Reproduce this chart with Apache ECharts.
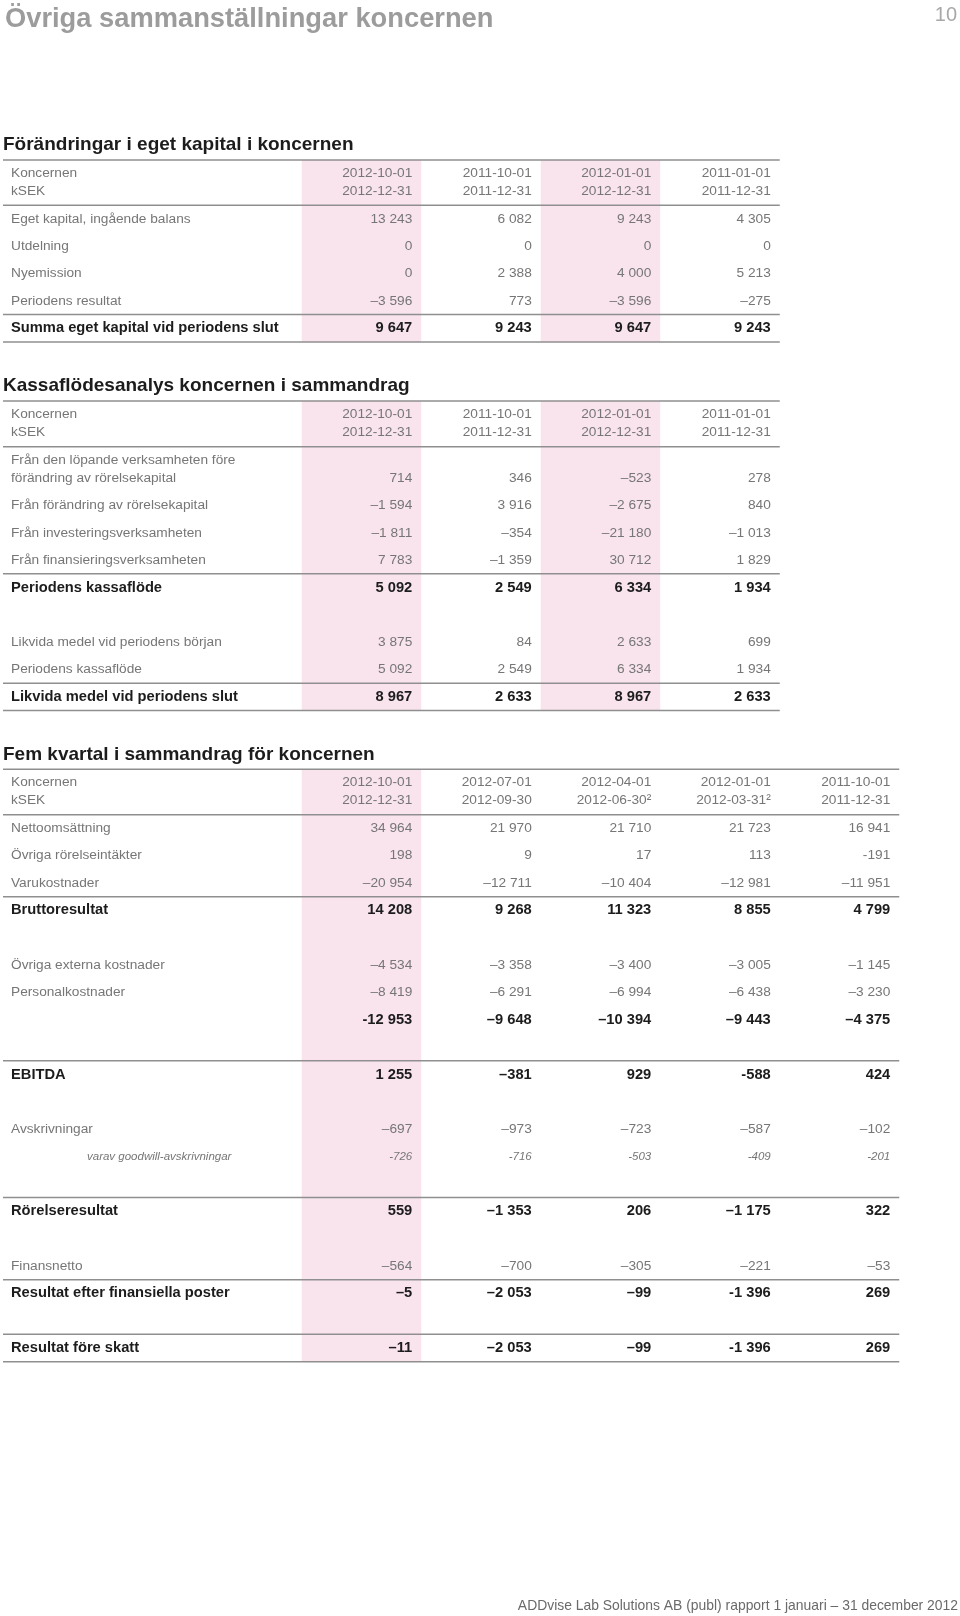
<!DOCTYPE html>
<html><head><meta charset="utf-8">
<script src="https://cdn.jsdelivr.net/npm/echarts@6/dist/echarts.min.js"></script>
<style>html,body{margin:0;padding:0;background:#fff}#c{width:960px;height:1616px}</style>
</head><body><div id="c"></div><script>
// ================= DATA =================
const pageTitle = 'Övriga sammanställningar koncernen';
const pageNumber = '10';
const footerText = 'ADDvise Lab Solutions AB (publ) rapport 1 januari – 31 december 2012';
const headerLabels = ['Koncernen', 'kSEK'];

// Table 1
const t1Title = 'Förändringar i eget kapital i koncernen';
const t1From = ['2012-10-01', '2011-10-01', '2012-01-01', '2011-01-01'];
const t1To = ['2012-12-31', '2011-12-31', '2012-12-31', '2011-12-31'];
const t1Labels = ['Eget kapital, ingående balans', 'Utdelning', 'Nyemission', 'Periodens resultat', 'Summa eget kapital vid periodens slut'];
const t1Slots = [0, 1, 2, 3, 4];
const t1Styles = ['n', 'n', 'n', 'n', 'b'];
const t1Values = [
  [13243, 6082, 9243, 4305],
  [0, 0, 0, 0],
  [0, 2388, 4000, 5213],
  [-3596, 773, -3596, -275],
  [9647, 9243, 9647, 9243]
];
const t1Rules = [-0.5, 3.5, 4.5];
const t1Shaded = [1, 3];
const t1Hyphen = [];

// Table 2
const t2Title = 'Kassaflödesanalys koncernen i sammandrag';
const t2From = ['2012-10-01', '2011-10-01', '2012-01-01', '2011-01-01'];
const t2To = ['2012-12-31', '2011-12-31', '2012-12-31', '2011-12-31'];
const t2Labels = ['Från den löpande verksamheten före\nförändring av rörelsekapital', 'Från förändring av rörelsekapital', 'Från investeringsverksamheten', 'Från finansieringsverksamheten', 'Periodens kassaflöde', 'Likvida medel vid periodens början', 'Periodens kassaflöde', 'Likvida medel vid periodens slut'];
const t2Slots = [0, 1, 2, 3, 4, 6, 7, 8];
const t2Styles = ['n', 'n', 'n', 'n', 'b', 'n', 'n', 'b'];
const t2Values = [
  [714, 346, -523, 278],
  [-1594, 3916, -2675, 840],
  [-1811, -354, -21180, -1013],
  [7783, -1359, 30712, 1829],
  [5092, 2549, 6334, 1934],
  [3875, 84, 2633, 699],
  [5092, 2549, 6334, 1934],
  [8967, 2633, 8967, 2633]
];
const t2Rules = [-1.15, 3.5, 7.5, 8.5];
const t2Shaded = [1, 3];
const t2Hyphen = [];

// Table 3
const t3Title = 'Fem kvartal i sammandrag för koncernen';
const t3From = ['2012-10-01', '2012-07-01', '2012-04-01', '2012-01-01', '2011-10-01'];
const t3To = ['2012-12-31', '2012-09-30', '2012-06-30²', '2012-03-31²', '2011-12-31'];
const t3Labels = ['Nettoomsättning', 'Övriga rörelseintäkter', 'Varukostnader', 'Bruttoresultat', 'Övriga externa kostnader', 'Personalkostnader', '', 'EBITDA', 'Avskrivningar', 'varav goodwill-avskrivningar', 'Rörelseresultat', 'Finansnetto', 'Resultat efter finansiella poster', 'Resultat före skatt'];
const t3Slots = [0, 1, 2, 3, 5, 6, 7, 9, 11, 12, 14, 16, 17, 19];
const t3Styles = ['n', 'n', 'n', 'b', 'n', 'n', 'b', 'b', 'n', 'i', 'b', 'n', 'b', 'b'];
const t3Values = [
  [34964, 21970, 21710, 21723, 16941],
  [198, 9, 17, 113, -191],
  [-20954, -12711, -10404, -12981, -11951],
  [14208, 9268, 11323, 8855, 4799],
  [-4534, -3358, -3400, -3005, -1145],
  [-8419, -6291, -6994, -6438, -3230],
  [-12953, -9648, -10394, -9443, -4375],
  [1255, -381, 929, -588, 424],
  [-697, -973, -723, -587, -102],
  [-726, -716, -503, -409, -201],
  [559, -1353, 206, -1175, 322],
  [-564, -700, -305, -221, -53],
  [-5, -2053, -99, -1396, 269],
  [-11, -2053, -99, -1396, 269]
];
const t3Rules = [-0.5, 2.5, 8.5, 13.5, 16.5, 18.5, 19.5];
const t3Shaded = [1];
// cells printed with a hyphen-minus instead of an en dash: [row, col]
const t3Hyphen = [[1, 4], [6, 0], [7, 3], [9, 0], [9, 1], [9, 2], [9, 3], [9, 4], [12, 3], [13, 3]];

// ================= LAYOUT / STYLE =================
const FONT = '"Liberation Sans", Arial, Helvetica, sans-serif';
const PITCH = 27.35, COLW = 119.5, LEFT = 3, LABEL_UNITS = 2.5;
const PINK = '#f9e4ee', RULE = '#8f8f8f';
const GRAY = '#767676', DARK = '#1c1c1c';

function fmt(v, hy) {
  const s = Math.abs(v).toString().replace(/\B(?=(\d{3})+(?!\d))/g, ' ');
  return v < 0 ? (hy ? '-' : '–') + s : s;
}
function styleFont(st) {
  if (st === 'b') return 'bold 14.7px ' + FONT;
  if (st === 'i') return 'italic 11.5px ' + FONT;
  return '13.7px ' + FONT;
}
function txt(x, y, text, font, fill, align) {
  return { type: 'text', x: x, y: y, style: { text: text, font: font, fill: fill, align: align, verticalAlign: 'middle', textAlign: align, textVerticalAlign: 'middle' } };
}

const grids = [], xAxes = [], yAxes = [], series = [], graphics = [];

function buildTable(g, cfg) {
  const ncols = cfg.from.length;
  const min = cfg.top0, max = cfg.rules[cfg.rules.length - 1];
  const headSlot = cfg.rules[0] - 0.85;
  grids.push({ left: LEFT, top: cfg.top, width: (ncols + LABEL_UNITS) * COLW, height: (max - min) * PITCH });
  xAxes.push({ type: 'value', gridIndex: g, min: -LABEL_UNITS, max: ncols, show: false });
  yAxes.push({ type: 'value', gridIndex: g, min: min, max: max, inverse: true, show: false });
  const base = { type: 'custom', xAxisIndex: g, yAxisIndex: g, silent: true, clip: false, animation: false };

  // shaded columns
  series.push(Object.assign({}, base, {
    z: 1,
    data: cfg.shaded.map(c => [c, min]),
    renderItem: (p, api) => {
      const c = api.value(0);
      const a = api.coord([c - 1, min]), b = api.coord([c, max]);
      return { type: 'rect', shape: { x: a[0], y: a[1], width: b[0] - a[0], height: b[1] - a[1] }, style: { fill: PINK } };
    }
  }));
  // horizontal rules
  series.push(Object.assign({}, base, {
    z: 2,
    data: [min].concat(cfg.rules).map(s => [-LABEL_UNITS, s]),
    renderItem: (p, api) => {
      const s = api.value(1);
      const a = api.coord([-LABEL_UNITS, s]), b = api.coord([ncols, s]);
      return { type: 'line', shape: { x1: a[0], y1: a[1], x2: b[0], y2: b[1] }, style: { stroke: RULE, lineWidth: 1.5 } };
    }
  }));
  // header
  const headData = [[-LABEL_UNITS, headSlot, 0]];
  for (let c = 1; c <= ncols; c++) headData.push([c, headSlot, c]);
  series.push(Object.assign({}, base, {
    z: 3,
    data: headData,
    renderItem: (p, api) => {
      const c = api.value(2), s = api.value(1);
      const t = c === 0 ? headerLabels : [cfg.from[c - 1], cfg.to[c - 1]];
      const a = api.coord([api.value(0), s - 0.33]), b = api.coord([api.value(0), s + 0.33]);
      const dx = c === 0 ? 8 : -9, al = c === 0 ? 'left' : 'right';
      return { type: 'group', children: [
        txt(a[0] + dx, a[1], t[0], '13.7px ' + FONT, GRAY, al),
        txt(b[0] + dx, b[1], t[1], '13.7px ' + FONT, GRAY, al)
      ] };
    }
  }));
  // body cells
  const cellData = [];
  cfg.labels.forEach((l, r) => {
    cellData.push([-LABEL_UNITS, cfg.slots[r], r, 0]);
    for (let c = 1; c <= ncols; c++) cellData.push([c, cfg.slots[r], r, c]);
  });
  series.push(Object.assign({}, base, {
    z: 3,
    data: cellData,
    renderItem: (p, api) => {
      const r = api.value(2), c = api.value(3), s = api.value(1);
      const st = cfg.styles[r];
      const fill = st === 'b' ? DARK : GRAY;
      const font = styleFont(st);
      if (c === 0) {
        const lines = cfg.labels[r].split('\n');
        const n = lines.length;
        const indent = st === 'i' ? 84 : 8;
        return { type: 'group', children: lines.map((ln, j) => {
          const pt = api.coord([-LABEL_UNITS, s - (n - 1 - j) * 0.65]);
          return txt(pt[0] + indent, pt[1], ln, font, fill, 'left');
        }) };
      }
      const hy = cfg.hyphen.some(h => h[0] === r && h[1] === c - 1);
      const pt = api.coord([c, s]);
      return txt(pt[0] - 9, pt[1], fmt(cfg.values[r][c - 1], hy), font, fill, 'right');
    }
  }));
  // section heading
  graphics.push({ type: 'text', x: LEFT, y: cfg.top - 15, style: { text: cfg.title, font: 'bold 19px ' + FONT, fill: DARK, verticalAlign: 'middle', textVerticalAlign: 'middle' } });
}

buildTable(0, { title: t1Title, top: 160, top0: -2.15, from: t1From, to: t1To, labels: t1Labels, slots: t1Slots, styles: t1Styles, values: t1Values, rules: t1Rules, shaded: t1Shaded, hyphen: t1Hyphen });
buildTable(1, { title: t2Title, top: 401, top0: -2.82, from: t2From, to: t2To, labels: t2Labels, slots: t2Slots, styles: t2Styles, values: t2Values, rules: t2Rules, shaded: t2Shaded, hyphen: t2Hyphen });
buildTable(2, { title: t3Title, top: 769.3, top0: -2.16, from: t3From, to: t3To, labels: t3Labels, slots: t3Slots, styles: t3Styles, values: t3Values, rules: t3Rules, shaded: t3Shaded, hyphen: t3Hyphen });

graphics.push({ type: 'text', x: 5, y: 19, style: { text: pageTitle, font: 'bold 27.3px ' + FONT, fill: '#9c9c9c', verticalAlign: 'middle', textVerticalAlign: 'middle' } });
graphics.push({ type: 'text', x: 957, y: 15, style: { text: pageNumber, font: '20px ' + FONT, fill: '#a8a8a8', align: 'right', textAlign: 'right', verticalAlign: 'middle', textVerticalAlign: 'middle' } });
graphics.push({ type: 'text', x: 958, y: 1606, style: { text: footerText, font: '13.9px ' + FONT, fill: '#6a6a6a', align: 'right', textAlign: 'right', verticalAlign: 'middle', textVerticalAlign: 'middle' } });

const chart = echarts.init(document.getElementById('c'), null, { renderer: 'canvas' });
chart.setOption({
  backgroundColor: '#ffffff',
  animation: false,
  grid: grids,
  xAxis: xAxes,
  yAxis: yAxes,
  series: series,
  graphic: graphics
});
</script></body></html>
